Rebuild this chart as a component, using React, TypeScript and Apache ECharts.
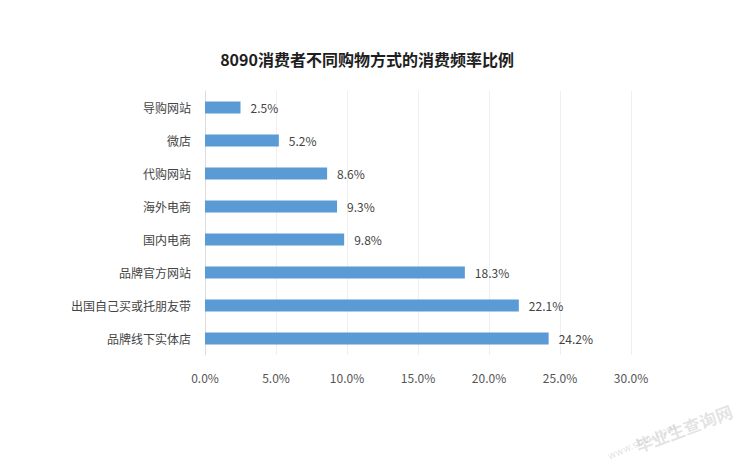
import React, { useEffect, useRef } from "react";
import * as echarts from "echarts";

const categories = ["导购网站", "微店", "代购网站", "海外电商", "国内电商", "品牌官方网站", "出国自己买或托朋友带", "品牌线下实体店"];
const values = [2.5, 5.2, 8.6, 9.3, 9.8, 18.3, 22.1, 24.2];
const titleText = "8090消费者不同购物方式的消费频率比例";

export default function App() {
  const ref = useRef<HTMLDivElement>(null);
  useEffect(() => {
    document.body.style.margin = "0";
    const chart = echarts.init(ref.current!, undefined, { renderer: "svg" });
    chart.setOption({
      animation: false,
      backgroundColor: "#ffffff",
      title: {
        text: titleText,
        left: 362,
        textAlign: "center",
        top: 46,
        textStyle: { fontSize: 16, fontWeight: "bold", color: "#1e1e1e", fontFamily: "Noto Sans CJK SC" },
      },
      grid: { left: 205, right: 120, top: 91, bottom: 110 },
      xAxis: {
        type: "value",
        min: 0,
        max: 30,
        interval: 5,
        axisLine: { show: false },
        axisTick: { show: false },
        splitLine: { show: true, lineStyle: { color: "#efefef", width: 1 } },
        axisLabel: {
          formatter: (v: number) => v.toFixed(1) + "%",
          color: "#555",
          fontSize: 12,
          margin: 16,
          fontFamily: "Noto Sans CJK SC",
        },
      },
      yAxis: {
        type: "category",
        data: categories,
        inverse: true,
        axisLine: { show: true, lineStyle: { color: "#dcdcdc" } },
        axisTick: { show: false },
        axisLabel: { color: "#444", fontSize: 12, margin: 14, fontFamily: "Noto Sans CJK SC" },
      },
      series: [
        {
          type: "bar",
          data: values,
          barWidth: 12,
          itemStyle: { color: "#5b9bd5" },
          label: {
            show: true,
            position: "right",
            distance: 10,
            formatter: (p: any) => p.value.toFixed(1) + "%",
            color: "#444",
            fontSize: 12,
            fontFamily: "Noto Sans CJK SC",
          },
        },
      ],
      graphic: [
        {
          type: "text",
          x: 633,
          y: 438,
          rotation: 0.36,
          style: { text: "毕业生查询网", fill: "rgba(175,175,175,0.35)", fontSize: 17, fontWeight: "bold", fontFamily: "Noto Sans CJK SC" },
        },
        {
          type: "text",
          x: 606,
          y: 452,
          rotation: 0.42,
          style: { text: "www.sbvv.com", fill: "rgba(175,175,175,0.35)", fontSize: 10, fontFamily: "DejaVu Sans" },
        },
      ],
    });
    return () => chart.dispose();
  }, []);
  return <div ref={ref} style={{ width: 751, height: 465 }} />;
}
